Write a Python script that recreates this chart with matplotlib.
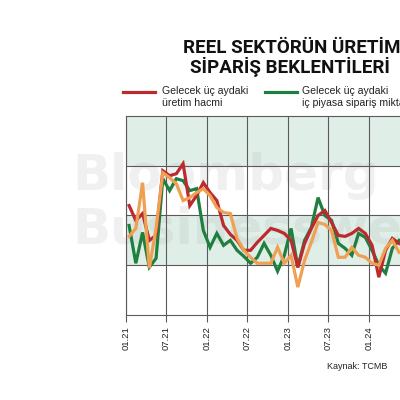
import matplotlib
matplotlib.use("Agg")
import matplotlib.pyplot as plt
from matplotlib.lines import Line2D

# ---- data (monthly, starting 01.2021) ----
tick_labels = ["01.21", "07.21", "01.22", "07.22", "01.23", "07.23", "01.24"]
uretim_hacmi = [122.0, 119.0, 120.4, 115.0, 116.0, 129.0, 128.0, 128.4, 130.4, 122.0,
                124.0, 126.6, 124.6, 123.0, 118.0, 116.2, 115.0, 113.0, 113.0, 114.6,
                116.0, 117.4, 117.0, 116.4, 115.0, 109.6, 114.4, 117.4, 120.0, 121.0,
                118.6, 116.0, 115.8, 116.4, 117.4, 116.4, 114.0, 107.6, 113.0, 115.4, 114.4]
ic_piyasa_siparis = [118.0, 110.4, 116.6, 109.6, 111.4, 127.4, 125.0, 127.4, 127.0, 125.0,
                     125.4, 117.0, 113.6, 116.4, 114.0, 115.0, 113.0, 111.8, 110.4, 111.6,
                     114.4, 112.0, 108.8, 112.0, 117.4, 109.6, 115.0, 117.6, 123.6, 120.0,
                     119.0, 114.4, 113.4, 112.0, 116.4, 115.6, 113.0, 110.0, 108.4, 113.4, 115.0]
ihracat_siparis = [115.8, 117.4, 126.6, 109.4, 117.4, 128.6, 127.6, 126.4, 123.0, 123.6,
                   124.6, 125.4, 124.0, 121.6, 120.6, 120.4, 115.4, 113.0, 111.6, 110.4,
                   110.4, 110.4, 113.6, 110.4, 112.0, 105.6, 111.0, 114.6, 118.6, 118.2,
                   117.0, 111.6, 111.6, 113.6, 112.0, 111.6, 110.4, 110.0, 113.4, 115.0, 112.6]

RED = "#bb2a2e"
GREEN = "#1f7f3f"
ORANGE = "#f0a052"
BAND = "#e0eee8"
GRID = "#5a5a5a"

W, H = 400, 400
fig = plt.figure(figsize=(4, 4), dpi=100)
fig.patch.set_facecolor("white")

x0_px, top_px, bot_px = 125.7, 116, 315
px_per_month = 6.75
n_months = 42
ax = fig.add_axes([x0_px / W, 1 - bot_px / H, n_months * px_per_month / W, (bot_px - top_px) / H])
ax.set_xlim(0, n_months)
ax.set_ylim(100, 140)
ax.patch.set_alpha(0)

# bands
ax.axhspan(130, 140, color=BAND, zorder=0, lw=0)
ax.axhspan(110, 120, color=BAND, zorder=0, lw=0)

# watermark
for txt, yb in [("Bloomberg", 190), ("Businessweek", 243)]:
    ax.text(72 / W, 1 - yb / H, txt, transform=fig.transFigure, fontsize=36,
            fontweight="bold", family="DejaVu Sans", color="#9a9a9a", alpha=0.14,
            va="baseline", ha="left", zorder=0.5, clip_on=False)

# grid
for yv in [110, 120, 130]:
    ax.axhline(yv, color=GRID, lw=0.8, zorder=1)
tick_pos = [6 * k for k in range(len(tick_labels))]
for xv in tick_pos + [42]:
    ax.axvline(xv, color=GRID, lw=0.8, zorder=1)

xs = [i + 0.5 for i in range(len(uretim_hacmi))]
ax.plot(xs, ic_piyasa_siparis, color=GREEN, lw=2.3, zorder=3, solid_joinstyle="miter")
ax.plot(xs, uretim_hacmi, color=RED, lw=2.3, zorder=3, solid_joinstyle="miter")
ax.plot(xs, ihracat_siparis, color=ORANGE, lw=2.3, zorder=3, solid_joinstyle="miter")

for s in ["left", "top", "bottom"]:
    ax.spines[s].set_color(GRID)
    ax.spines[s].set_linewidth(0.8)
ax.spines["right"].set_visible(False)

ax.set_yticks([])
ax.set_xticks(tick_pos)
ax.set_xticklabels(tick_labels, rotation=90, fontsize=6.8, family="Liberation Sans", color="#222222")
ax.tick_params(axis="x", direction="out", length=5, width=0.8, color=GRID, pad=3)

# title
tfont = dict(family="Roboto", fontweight="bold", fontsize=13.5, color="#111111", va="baseline", ha="left")
fig.text(183 / W, 1 - 52.7 / H, "REEL SEKTÖRÜN ÜRETİM", **tfont)
fig.text(190 / W, 1 - 73.3 / H, "SİPARİŞ BEKLENTİLERİ", **tfont)

# legend
lfont = dict(family="Liberation Sans", fontsize=7.6, color="#222222", va="center", ha="left")
fig.add_artist(Line2D([123 / W, 155 / W], [1 - 92 / H] * 2, color=RED, lw=2.3, transform=fig.transFigure))
fig.text(161.7 / W, 1 - 91 / H, "Gelecek üç aydaki", **lfont)
fig.text(161.7 / W, 1 - 103.5 / H, "üretim hacmi", **lfont)
fig.add_artist(Line2D([265 / W, 297 / W], [1 - 92 / H] * 2, color=GREEN, lw=2.3, transform=fig.transFigure))
fig.text(301.7 / W, 1 - 91 / H, "Gelecek üç aydaki", **lfont)
fig.text(301.7 / W, 1 - 103.5 / H, "iç piyasa sipariş miktarı", **lfont)

# source
fig.text(326.7 / W, 1 - 366.7 / H, "Kaynak: TCMB", family="Liberation Sans", fontsize=6.5,
         color="#222222", va="center", ha="left")

fig.savefig("out.png", dpi=100)
